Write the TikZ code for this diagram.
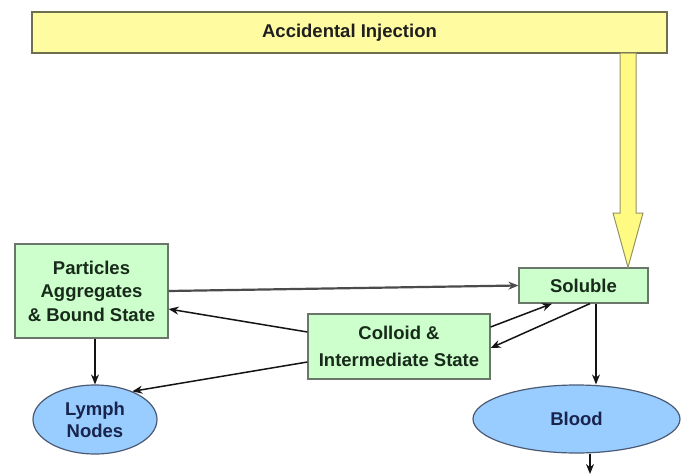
\documentclass[tikz,border=0pt]{standalone}
\usepackage{fontspec}
\setmainfont{Liberation Sans}
\usetikzlibrary{arrows.meta,shapes.geometric}

\definecolor{bannerfill}{RGB}{255,251,160}
\definecolor{bannerline}{RGB}{110,110,80}
\definecolor{arrowfill}{RGB}{255,250,130}
\definecolor{arrowline}{RGB}{150,148,100}
\definecolor{boxfill}{RGB}{204,255,204}
\definecolor{boxline}{RGB}{105,118,105}
\definecolor{boxtext}{RGB}{24,42,26}
\definecolor{ovalfill}{RGB}{153,204,255}
\definecolor{ovalline}{RGB}{75,90,115}
\definecolor{ovaltext}{RGB}{24,36,76}
\definecolor{link}{RGB}{20,20,20}
\definecolor{greylink}{RGB}{75,75,75}

\begin{document}
\begin{tikzpicture}[x=1pt,y=-1pt,
  banner/.style={draw=bannerline, line width=2pt, fill=bannerfill,
    minimum width=635pt, minimum height=41pt, inner sep=0pt,
    font=\fontsize{18.5}{22}\selectfont\bfseries, text=black!88},
  state/.style={draw=boxline, line width=1.2pt, fill=boxfill, inner sep=0pt,
    align=center, text=boxtext,
    font=\fontsize{18.5}{23.5}\selectfont\bfseries},
  organ/.style={ellipse, draw=ovalline, line width=1.2pt, fill=ovalfill,
    inner sep=0pt, align=center, text=ovaltext,
    font=\fontsize{18.5}{22}\selectfont\bfseries},
  arr/.style={draw=link, line width=1.5pt,
    -{Stealth[length=10pt,width=8pt]}},
  thickarr/.style={draw=greylink, line width=2.2pt,
    -{Stealth[length=10pt,width=8pt]}}
]
\useasboundingbox (0,0) rectangle (681,474);
\fill[white] (0,0) rectangle (681,474);

% source banner
\node[banner] (inj) at (349.5,32.5) {Accidental Injection};

% states
\node[state, minimum width=153pt, minimum height=94pt] (part) at (91.5,291)
  {Particles\\Aggregates\\\& Bound State};
\node[state, minimum width=129pt, minimum height=35pt] (sol) at (583.5,285.5)
  {Soluble};
\node[state, minimum width=182pt, minimum height=65pt,
  font=\fontsize{18.5}{27}\selectfont\bfseries] (col) at (399,346.5)
  {Colloid \&\\Intermediate State};

% destinations
\node[organ, minimum width=124pt, minimum height=69pt] (lymph) at (95,419.5)
  {Lymph\\Nodes};
\node[organ, minimum width=207pt, minimum height=68pt] (blood) at (576.5,419)
  {Blood};
\coordinate (exit) at (590,474);

% wide injection arrow from the banner down onto Soluble
\filldraw[fill=arrowfill, draw=arrowline, line width=1pt]
  (620,53) -- (636,53) -- (636,213) -- (643,213)
  -- (sol.north -| 628,0) -- (613,213) -- (620,213) -- cycle;

% transfers between states
\draw[thickarr] (part.east) -- (sol.west);
\draw[arr] ([yshift=14.5pt]col.west) -- ([yshift=-18pt]part.east);
\draw[arr] ([yshift=19.5pt]col.east) -- ([xshift=-31.5pt]sol.south);
\draw[arr] ([xshift=6.5pt]sol.south) -- ([yshift=-1.5pt]col.east);

% clearance routes
\draw[arr] (part.south -| lymph.north) -- (lymph.north);
\draw[arr] ([yshift=-15.5pt]col.west) -- (lymph.37);
\draw[arr] ([xshift=12.5pt]sol.south) -- ([xshift=12.5pt]sol.south |- blood.north);
\draw[arr] (blood.south -| exit) -- (exit);
\end{tikzpicture}
\end{document}
